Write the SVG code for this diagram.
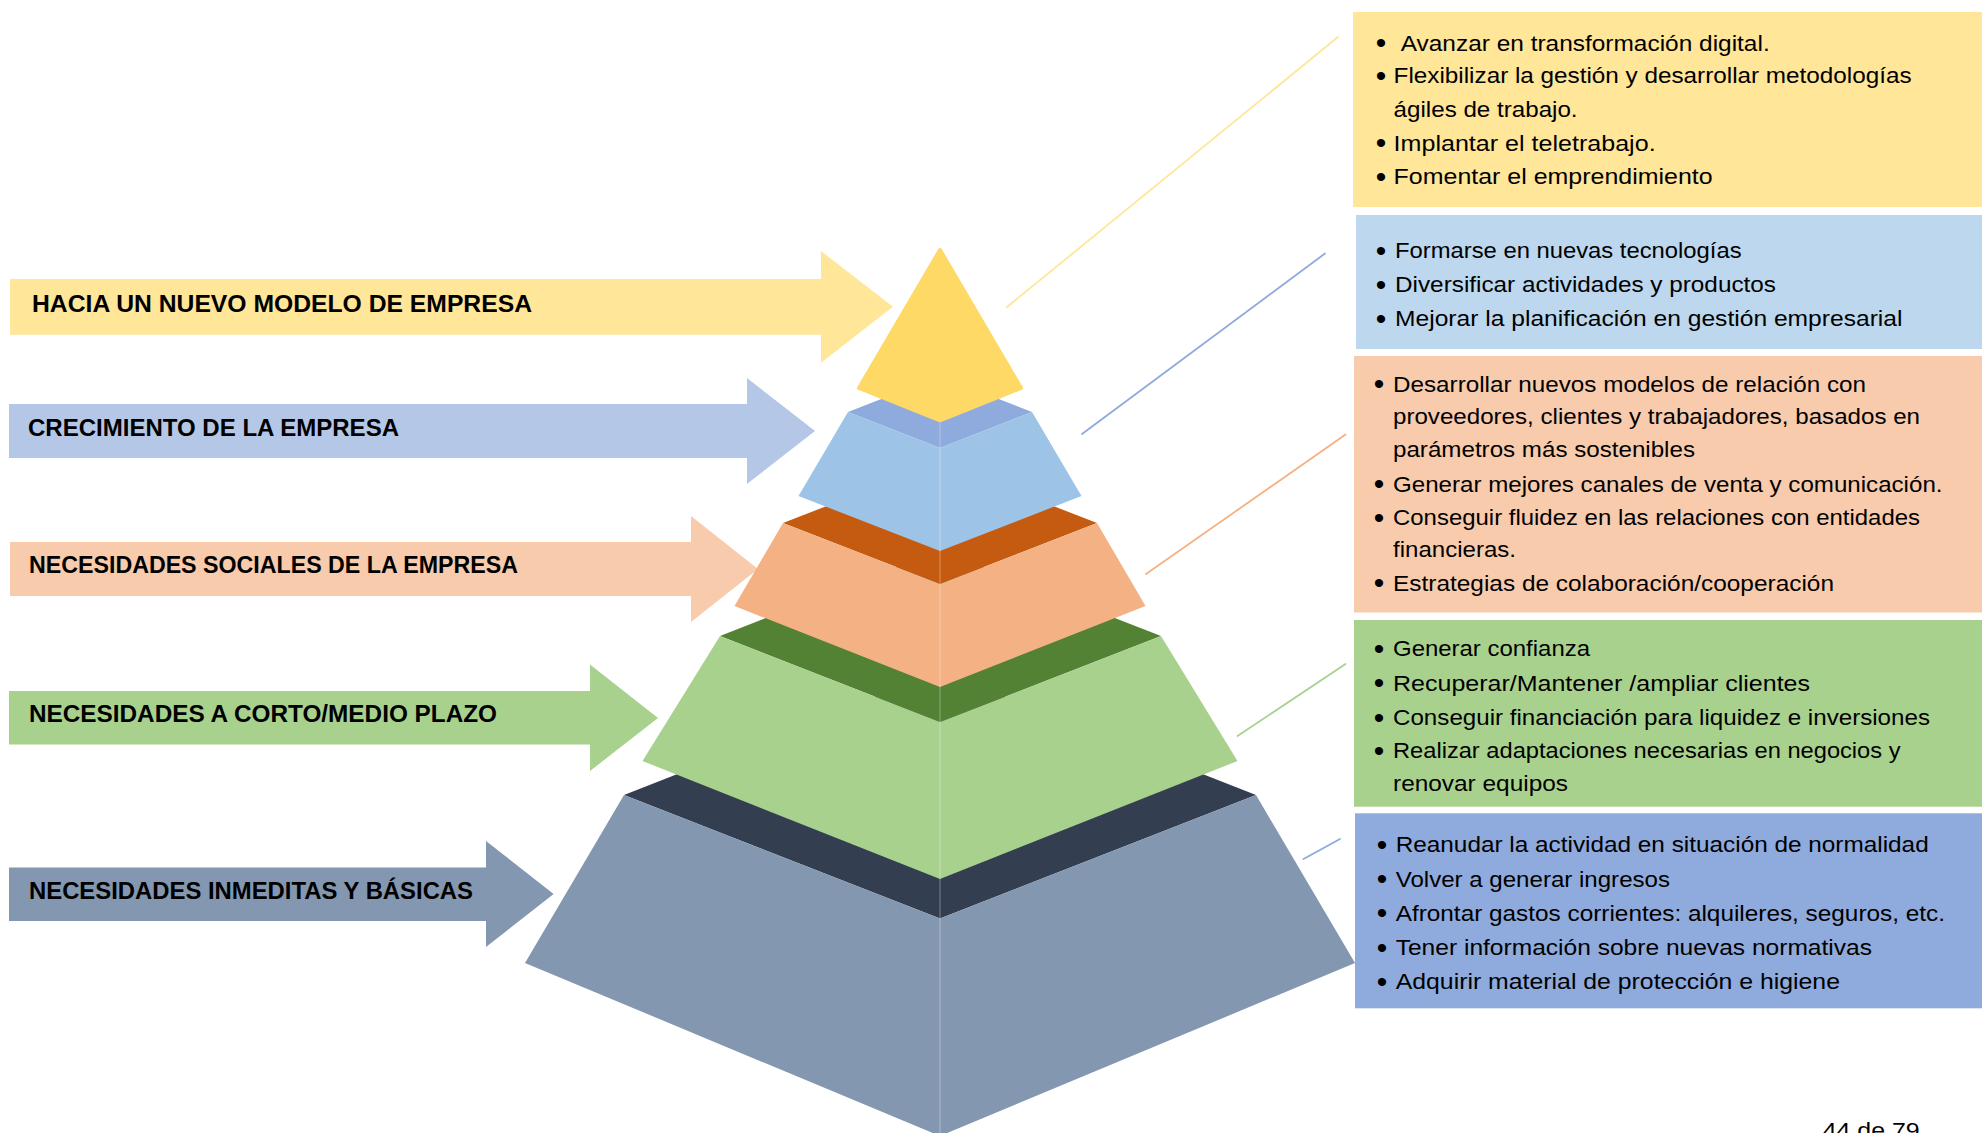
<svg xmlns="http://www.w3.org/2000/svg" width="1982" height="1133" viewBox="0 0 1982 1133">
<style>
  .lbl { font-family: "Liberation Sans", Arial, sans-serif; font-weight: bold; font-size: 24px; fill: #000; }
  .txt { font-family: "Liberation Sans", Arial, sans-serif; font-size: 22px; fill: #000; }
  .bul { font-family: "Liberation Sans", Arial, sans-serif; font-size: 30px; fill: #000; text-anchor: middle; }
  .conn { fill: none; stroke-width: 1.8; stroke-linecap: round; }
  .seam { stroke: #ffffff; stroke-opacity: 0.35; stroke-width: 1; }
</style>
<rect x="0" y="0" width="1982" height="1133" fill="#ffffff"/>

<!-- Left arrows -->
<g id="arrow-nuevo-modelo">
  <polygon points="10,279 821,279 821,251 893,306.7 821,362.7 821,334.7 10,334.7" fill="#FFE699"/>
  <text class="lbl" x="32" y="312" textLength="500" lengthAdjust="spacingAndGlyphs">HACIA UN NUEVO MODELO DE EMPRESA</text>
</g>
<g id="arrow-crecimiento">
  <polygon points="9,404 747,404 747,378 815,431 747,484 747,458 9,458" fill="#B4C7E7"/>
  <text class="lbl" x="28" y="436" textLength="371" lengthAdjust="spacingAndGlyphs">CRECIMIENTO DE LA EMPRESA</text>
</g>
<g id="arrow-sociales">
  <polygon points="10,542 691,542 691,516 758,569 691,622 691,596 10,596" fill="#F8CBAD"/>
  <text class="lbl" x="29" y="573" textLength="489" lengthAdjust="spacingAndGlyphs">NECESIDADES SOCIALES DE LA EMPRESA</text>
</g>
<g id="arrow-corto-medio">
  <polygon points="9,691 590,691 590,664.6 658,718 590,771 590,744.5 9,744.5" fill="#A9D18E"/>
  <text class="lbl" x="29" y="722" textLength="468" lengthAdjust="spacingAndGlyphs">NECESIDADES A CORTO/MEDIO PLAZO</text>
</g>
<g id="arrow-inmediatas">
  <polygon points="9,867.5 486,867.5 486,841 553.6,894 486,947 486,921 9,921" fill="#8497B0"/>
  <text class="lbl" x="29" y="899" textLength="444" lengthAdjust="spacingAndGlyphs">NECESIDADES INMEDITAS Y BÁSICAS</text>
</g>

<!-- Pyramid -->
<g id="tier-basicas">
  <polygon points="624,795 940,918.5 1256,795 940,671" fill="#333F50"/>
  <polygon points="624,795 940,918.5 940,1136 525,963" fill="#8497B0"/>
  <polygon points="1256,795 940,918.5 940,1136 1355,963" fill="#8497B0"/>
</g>
<g id="tier-corto-medio">
  <polygon points="720,636 940,722 1161,636 940,550" fill="#548235"/>
  <polygon points="720,636 940,722 940,879 642.5,761" fill="#A9D18E"/>
  <polygon points="1161,636 940,722 940,879 1237.5,761" fill="#A9D18E"/>
</g>
<g id="tier-sociales">
  <polygon points="783,523 940,584 1097,523 940,462" fill="#C55A11"/>
  <polygon points="783,523 940,584 940,687 734.5,606" fill="#F4B183"/>
  <polygon points="1097,523 940,584 940,687 1145.5,606" fill="#F4B183"/>
</g>
<g id="tier-crecimiento">
  <polygon points="848,412 940,448 1032,412 940,376" fill="#8FAADC"/>
  <polygon points="848,412 940,448 940,551 798.5,496" fill="#9DC3E6"/>
  <polygon points="1032,412 940,448 940,551 1081.5,496" fill="#9DC3E6"/>
</g>
<g id="tier-nuevo-modelo">
  <polygon points="940,250 859,388 940,420.5 1021,388" fill="#FFD966" stroke="#FFD966" stroke-width="4" stroke-linejoin="round"/>
</g>
<line class="seam" x1="940" y1="423" x2="940" y2="1133"/>

<!-- Connectors -->
<g id="connectors">
  <line class="conn" x1="1007" y1="307" x2="1338" y2="37" stroke="#FFE699"/>
  <line class="conn" x1="1082" y1="434" x2="1325" y2="253.5" stroke="#8FAADC"/>
  <line class="conn" x1="1146" y1="574" x2="1345.5" y2="434.5" stroke="#F4B183"/>
  <line class="conn" x1="1237.5" y1="736" x2="1345.5" y2="664" stroke="#A9D18E"/>
  <line class="conn" x1="1303.5" y1="859" x2="1340" y2="839" stroke="#8FAADC"/>
</g>

<!-- Right boxes -->
<g id="box-nuevo-modelo">
  <rect x="1353" y="12" width="629" height="195" fill="#FFE699"/>
  <text class="bul" x="1381" y="53">•</text>
  <text class="txt" x="1400.7" y="50.7" textLength="369" lengthAdjust="spacingAndGlyphs">Avanzar en transformación digital.</text>
  <text class="bul" x="1381" y="86">•</text>
  <text class="txt" x="1393.6" y="83.3" textLength="518" lengthAdjust="spacingAndGlyphs">Flexibilizar la gestión y desarrollar metodologías</text>
  <text class="txt" x="1393.6" y="116.7" textLength="184" lengthAdjust="spacingAndGlyphs">ágiles de trabajo.</text>
  <text class="bul" x="1381" y="153.4">•</text>
  <text class="txt" x="1393.6" y="150.7" textLength="262" lengthAdjust="spacingAndGlyphs">Implantar el teletrabajo.</text>
  <text class="bul" x="1381" y="187">•</text>
  <text class="txt" x="1393.6" y="184.3" textLength="319" lengthAdjust="spacingAndGlyphs">Fomentar el emprendimiento</text>
</g>
<g id="box-crecimiento">
  <rect x="1356" y="215" width="626" height="134" fill="#BDD7EE"/>
  <text class="bul" x="1381" y="261">•</text>
  <text class="txt" x="1395" y="258.3" textLength="346.6" lengthAdjust="spacingAndGlyphs">Formarse en nuevas tecnologías</text>
  <text class="bul" x="1381" y="295">•</text>
  <text class="txt" x="1395" y="292.3" textLength="381" lengthAdjust="spacingAndGlyphs">Diversificar actividades y productos</text>
  <text class="bul" x="1381" y="328.7">•</text>
  <text class="txt" x="1395" y="326" textLength="507.5" lengthAdjust="spacingAndGlyphs">Mejorar la planificación en gestión empresarial</text>
</g>
<g id="box-sociales">
  <rect x="1354" y="356" width="628" height="256.5" fill="#F8CBAD"/>
  <text class="bul" x="1379" y="394.4">•</text>
  <text class="txt" x="1393" y="391.7" textLength="473" lengthAdjust="spacingAndGlyphs">Desarrollar nuevos modelos de relación con</text>
  <text class="txt" x="1393" y="424" textLength="527" lengthAdjust="spacingAndGlyphs">proveedores, clientes y trabajadores, basados en</text>
  <text class="txt" x="1393" y="456.7" textLength="302" lengthAdjust="spacingAndGlyphs">parámetros más sostenibles</text>
  <text class="bul" x="1379" y="494.4">•</text>
  <text class="txt" x="1393" y="491.7" textLength="549.5" lengthAdjust="spacingAndGlyphs">Generar mejores canales de venta y comunicación.</text>
  <text class="bul" x="1379" y="527.7">•</text>
  <text class="txt" x="1393" y="525" textLength="527" lengthAdjust="spacingAndGlyphs">Conseguir fluidez en las relaciones con entidades</text>
  <text class="txt" x="1393" y="557.3" textLength="123" lengthAdjust="spacingAndGlyphs">financieras.</text>
  <text class="bul" x="1379" y="593.4">•</text>
  <text class="txt" x="1393" y="590.7" textLength="441" lengthAdjust="spacingAndGlyphs">Estrategias de colaboración/cooperación</text>
</g>
<g id="box-corto-medio">
  <rect x="1354" y="620" width="628" height="186.7" fill="#A9D18E"/>
  <text class="bul" x="1379" y="658.7">•</text>
  <text class="txt" x="1393" y="656" textLength="197" lengthAdjust="spacingAndGlyphs">Generar confianza</text>
  <text class="bul" x="1379" y="693.4">•</text>
  <text class="txt" x="1393" y="690.7" textLength="417" lengthAdjust="spacingAndGlyphs">Recuperar/Mantener /ampliar clientes</text>
  <text class="bul" x="1379" y="727.7">•</text>
  <text class="txt" x="1393" y="725" textLength="537" lengthAdjust="spacingAndGlyphs">Conseguir financiación para liquidez e inversiones</text>
  <text class="bul" x="1379" y="761">•</text>
  <text class="txt" x="1393" y="758.3" textLength="507.5" lengthAdjust="spacingAndGlyphs">Realizar adaptaciones necesarias en negocios y</text>
  <text class="txt" x="1393" y="790.7" textLength="175" lengthAdjust="spacingAndGlyphs">renovar equipos</text>
</g>
<g id="box-basicas">
  <rect x="1355" y="813.3" width="627" height="195" fill="#8FAADC"/>
  <text class="bul" x="1382" y="855">•</text>
  <text class="txt" x="1395.7" y="852.3" textLength="533" lengthAdjust="spacingAndGlyphs">Reanudar la actividad en situación de normalidad</text>
  <text class="bul" x="1382" y="889.4">•</text>
  <text class="txt" x="1395.7" y="886.7" textLength="274.3" lengthAdjust="spacingAndGlyphs">Volver a generar ingresos</text>
  <text class="bul" x="1382" y="923.4">•</text>
  <text class="txt" x="1395.7" y="920.7" textLength="549.3" lengthAdjust="spacingAndGlyphs">Afrontar gastos corrientes: alquileres, seguros, etc.</text>
  <text class="bul" x="1382" y="957.7">•</text>
  <text class="txt" x="1395.7" y="955" textLength="476.3" lengthAdjust="spacingAndGlyphs">Tener información sobre nuevas normativas</text>
  <text class="bul" x="1382" y="992">•</text>
  <text class="txt" x="1395.7" y="989.3" textLength="444.3" lengthAdjust="spacingAndGlyphs">Adquirir material de protección e higiene</text>
</g>

<g id="page-number">
  <text class="txt" x="1822.7" y="1138" textLength="97" lengthAdjust="spacingAndGlyphs" fill="#000">44 de 79</text>
</g>
</svg>
